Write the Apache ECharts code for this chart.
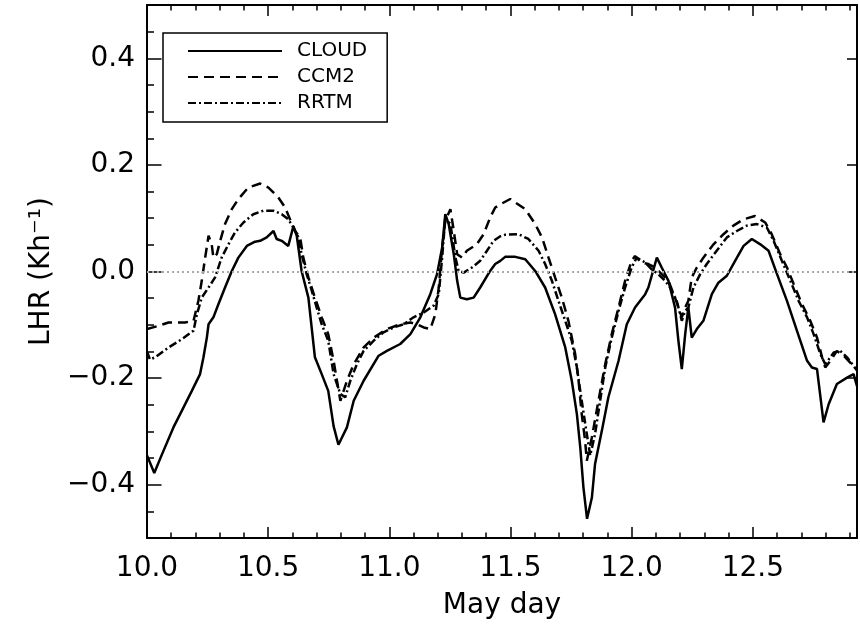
<!DOCTYPE html>
<html>
<head>
<meta charset="utf-8">
<script src="https://cdn.jsdelivr.net/npm/echarts@6/dist/echarts.min.js"></script>
<style>html,body{margin:0;padding:0;background:#fff;}#c{width:860px;height:625px;}</style>
</head>
<body>
<div id="c"></div>
<script>
var cloudX = [10.000,10.030,10.060,10.109,10.144,10.185,10.219,10.233,10.247,10.254,10.274,10.295,10.322,10.350,10.377,10.412,10.446,10.467,10.494,10.522,10.535,10.556,10.583,10.604,10.618,10.638,10.666,10.693,10.721,10.748,10.770,10.790,10.825,10.853,10.894,10.956,10.990,11.045,11.087,11.128,11.169,11.197,11.218,11.231,11.245,11.266,11.280,11.293,11.320,11.348,11.375,11.416,11.437,11.458,11.478,11.520,11.561,11.602,11.643,11.684,11.726,11.753,11.774,11.788,11.801,11.816,11.836,11.849,11.877,11.904,11.946,11.980,12.014,12.056,12.069,12.104,12.124,12.152,12.179,12.193,12.207,12.221,12.234,12.248,12.269,12.296,12.331,12.358,12.393,12.427,12.462,12.496,12.531,12.565,12.600,12.641,12.682,12.724,12.744,12.765,12.792,12.813,12.847,12.889,12.916,12.930];
var cloudY = [-0.345,-0.378,-0.345,-0.2925,-0.261,-0.224,-0.1925,-0.161,-0.124,-0.099,-0.086,-0.061,-0.030,0.001,0.026,0.048,0.056,0.0575,0.064,0.076,0.061,0.0575,0.048,0.085,0.067,0.001,-0.049,-0.161,-0.1925,-0.224,-0.29,-0.325,-0.2925,-0.2425,-0.205,-0.158,-0.149,-0.136,-0.1175,-0.086,-0.0425,-0.005,0.045,0.1075,0.089,0.0325,-0.0175,-0.049,-0.052,-0.049,-0.03,0.001,0.014,0.02,0.0275,0.0275,0.023,0.001,-0.03,-0.08,-0.1425,-0.205,-0.2675,-0.33,-0.405,-0.464,-0.424,-0.361,-0.299,-0.236,-0.1675,-0.099,-0.0675,-0.0425,-0.03,0.026,0.0075,-0.0175,-0.0675,-0.13,-0.183,-0.1175,-0.0675,-0.124,-0.108,-0.0925,-0.0425,-0.021,-0.008,0.02,0.048,0.061,0.051,0.039,-0.005,-0.055,-0.111,-0.1675,-0.18,-0.183,-0.283,-0.249,-0.211,-0.199,-0.1925,-0.215];

var ccm2X = [10.000,10.047,10.089,10.157,10.192,10.212,10.226,10.240,10.254,10.267,10.274,10.288,10.302,10.322,10.350,10.377,10.418,10.467,10.501,10.542,10.570,10.590,10.611,10.632,10.645,10.666,10.693,10.721,10.748,10.770,10.784,10.798,10.825,10.853,10.894,10.936,10.990,11.045,11.087,11.114,11.142,11.169,11.190,11.204,11.218,11.231,11.252,11.266,11.280,11.300,11.320,11.361,11.389,11.416,11.437,11.458,11.499,11.561,11.602,11.630,11.657,11.684,11.712,11.739,11.767,11.781,11.794,11.808,11.815,11.836,11.863,11.891,11.918,11.946,11.973,12.000,12.014,12.041,12.069,12.096,12.124,12.152,12.179,12.207,12.221,12.234,12.248,12.269,12.296,12.338,12.379,12.420,12.462,12.509,12.551,12.578,12.613,12.641,12.669,12.703,12.737,12.765,12.786,12.799,12.820,12.847,12.875,12.902,12.930];
var ccm2Y = [-0.108,-0.102,-0.0956,-0.0956,-0.0925,-0.055,-0.0175,0.026,0.067,0.051,0.026,0.0325,0.0575,0.089,0.117,0.136,0.1575,0.165,0.1575,0.139,0.12,0.098,0.076,0.064,0.026,-0.011,-0.049,-0.086,-0.1175,-0.1675,-0.205,-0.2425,-0.205,-0.174,-0.1425,-0.124,-0.108,-0.099,-0.0956,-0.099,-0.105,-0.108,-0.08,-0.03,0.045,0.095,0.117,0.076,0.0325,0.026,0.039,0.051,0.07,0.101,0.12,0.126,0.136,0.117,0.089,0.064,0.026,-0.011,-0.049,-0.0925,-0.155,-0.205,-0.2675,-0.3175,-0.355,-0.311,-0.2425,-0.174,-0.1175,-0.0675,-0.0175,0.02,0.029,0.017,0.014,0.0075,-0.005,-0.0175,-0.049,-0.086,-0.0675,-0.055,-0.011,0.0075,0.026,0.051,0.07,0.086,0.098,0.104,0.092,0.07,0.0325,0.0075,-0.024,-0.061,-0.0925,-0.124,-0.161,-0.18,-0.1675,-0.149,-0.158,-0.171,-0.18];

var rrtmX = [10.000,10.012,10.034,10.089,10.144,10.192,10.206,10.226,10.254,10.281,10.308,10.336,10.363,10.398,10.439,10.480,10.522,10.556,10.583,10.604,10.625,10.638,10.659,10.680,10.700,10.721,10.748,10.770,10.798,10.818,10.839,10.866,10.894,10.935,10.976,11.018,11.059,11.100,11.142,11.183,11.204,11.218,11.231,11.252,11.273,11.286,11.307,11.341,11.375,11.403,11.430,11.458,11.478,11.533,11.574,11.616,11.643,11.671,11.698,11.726,11.753,11.774,11.794,11.815,11.829,11.849,11.870,11.891,11.918,11.946,11.973,12.000,12.021,12.056,12.083,12.110,12.138,12.159,12.186,12.207,12.221,12.234,12.255,12.283,12.310,12.351,12.393,12.434,12.475,12.517,12.558,12.586,12.620,12.655,12.689,12.724,12.751,12.779,12.799,12.834,12.861,12.889,12.916,12.930];
var rrtmY = [-0.150,-0.165,-0.161,-0.1425,-0.127,-0.111,-0.08,-0.049,-0.03,-0.011,0.026,0.051,0.073,0.092,0.1075,0.114,0.114,0.1075,0.098,0.0825,0.064,0.0325,-0.005,-0.036,-0.0675,-0.099,-0.13,-0.1925,-0.23,-0.236,-0.205,-0.174,-0.149,-0.13,-0.114,-0.105,-0.099,-0.086,-0.077,-0.064,-0.0425,0.026,0.101,0.089,0.026,0.001,-0.002,0.0075,0.02,0.039,0.0575,0.066,0.069,0.07,0.061,0.039,0.014,-0.0175,-0.055,-0.0925,-0.13,-0.18,-0.2425,-0.305,-0.345,-0.305,-0.2425,-0.18,-0.124,-0.074,-0.03,0.0075,0.026,0.017,0.004,-0.005,-0.0175,-0.03,-0.055,-0.0925,-0.074,-0.0675,-0.03,-0.005,0.014,0.039,0.064,0.076,0.086,0.089,0.0825,0.0575,0.02,-0.0175,-0.055,-0.086,-0.1175,-0.155,-0.174,-0.152,-0.149,-0.161,-0.177,-0.186];

var seriesNames = ['CLOUD', 'CCM2', 'RRTM'];
var xMin = 10.0, xMax = 12.93, xMajor = 0.5, xMinor = 0.1;
var yMin = -0.5, yMax = 0.5, yMinor = 0.05;

function pairs(xs, ys) { return xs.map(function (x, i) { return [x, ys[i]]; }); }

var FONT = 'DejaVu Sans';
var axisLineStyle = { show: true, lineStyle: { color: '#000', width: 2 } };

// hidden x axes listed first: they take the "on zero" slots of the y axes,
// so the visible x axes stay on the frame edges
function dummyX() {
  return { type: 'value', show: false, min: xMin, max: xMax, position: 'bottom' };
}

function xAx(pos, major, labels) {
  var a = {
    type: 'value', position: pos, min: xMin, max: xMax,
    interval: major ? xMajor : xMinor,
    axisLine: major ? axisLineStyle : { show: false },
    axisTick: { show: true, inside: true, length: major ? 11 : 5.5, lineStyle: { color: '#000', width: 1.5 } },
    axisLabel: { show: false },
    splitLine: { show: false }
  };
  if (labels) {
    a.axisLabel = { show: true, margin: 17, fontSize: 28, fontFamily: FONT, color: '#000', showMaxLabel: false,
      formatter: function (v) { return v.toFixed(1); } };
    a.name = 'May day'; a.nameLocation = 'middle'; a.nameGap = 54;
    a.nameTextStyle = { fontSize: 28, fontFamily: FONT, color: '#000' };
  }
  return a;
}

function yAx(pos, major, labels, len) {
  var a = {
    type: 'value', position: pos, min: yMin, max: yMax,
    axisLine: major ? axisLineStyle : { show: false },
    axisTick: { show: true, inside: true, length: len, lineStyle: { color: '#000', width: 1.5 } },
    axisLabel: { show: false },
    splitLine: { show: false }
  };
  if (major) { a.splitNumber = 5; } else { a.interval = yMinor; }
  if (labels) {
    a.axisLabel = { show: true, margin: 12, fontSize: 28, fontFamily: FONT, color: '#000', showMaxLabel: false, showMinLabel: false,
      formatter: function (v) { return v.toFixed(1).replace('-', '\u2212'); } };
    a.name = 'LHR (Kh\u207B\u00B9)'; a.nameLocation = 'middle'; a.nameGap = 90;
    a.nameTextStyle = { fontSize: 28, fontFamily: FONT, color: '#000' };
  }
  return a;
}

var chart = echarts.init(document.getElementById('c'), null, { renderer: 'canvas' });
chart.setOption({
  animation: false,
  backgroundColor: '#fff',
  grid: { left: 147, right: 3, top: 5, bottom: 85, containLabel: false },
  xAxis: [dummyX(), dummyX(), dummyX(),
          xAx('bottom', true, true), xAx('bottom', false, false), xAx('top', true, false), xAx('top', false, false)],
  yAxis: [yAx('left', true, true, 14.5), yAx('left', false, false, 7), yAx('right', true, false, 10)],
  legend: {
    data: seriesNames, orient: 'vertical', left: 163, top: 33,
    padding: [8, 20, 9, 24], itemGap: 6, itemWidth: 94, itemHeight: 18,
    borderColor: '#000', borderWidth: 1.5, backgroundColor: '#fff',
    itemStyle: { opacity: 0 },
    textStyle: { fontSize: 20, fontFamily: FONT, color: '#000', padding: [0, 0, 0, 10] }
  },
  series: [
    { name: 'CLOUD', type: 'line', xAxisIndex: 3, yAxisIndex: 0, data: pairs(cloudX, cloudY), symbol: 'none',
      lineStyle: { color: '#000', width: 2.5, type: 'solid' }, itemStyle: { color: '#000' },
      markLine: { silent: true, symbol: 'none', label: { show: false },
        lineStyle: { color: '#aaa', width: 2, type: [2, 3] }, data: [{ yAxis: 0 }] } },
    { name: 'CCM2', type: 'line', xAxisIndex: 3, yAxisIndex: 0, data: pairs(ccm2X, ccm2Y), symbol: 'none',
      lineStyle: { color: '#000', width: 2.5, type: [10, 6] }, itemStyle: { color: '#000' } },
    { name: 'RRTM', type: 'line', xAxisIndex: 3, yAxisIndex: 0, data: pairs(rrtmX, rrtmY), symbol: 'none',
      lineStyle: { color: '#000', width: 2.5, type: [8, 3, 2, 3] }, itemStyle: { color: '#000' } }
  ]
});
</script>
</body>
</html>
